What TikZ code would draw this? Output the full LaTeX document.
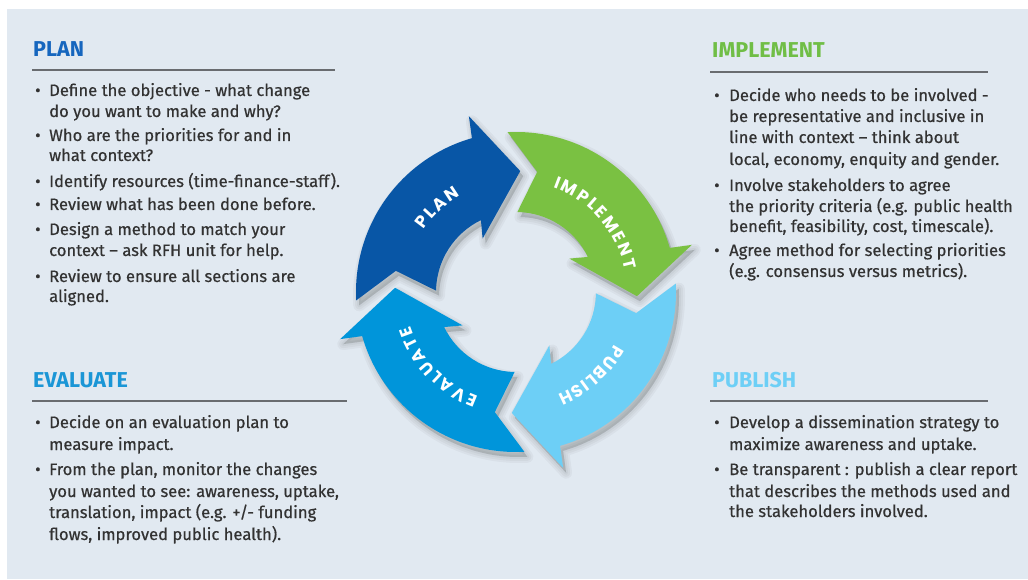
\documentclass[tikz,border=0pt]{standalone}
\usepackage{fontspec}
\setmainfont{Fira Sans}
\newfontfamily\bodyfont{Fira Sans}[FakeBold=0.6]
\newfontfamily\lblfont{Poppins}
\usetikzlibrary{decorations.text}
\definecolor{panel}{RGB}{225,233,241}
\definecolor{plancol}{RGB}{8,86,166}
\definecolor{planhead}{RGB}{22,102,190}
\definecolor{implcol}{RGB}{122,193,66}
\definecolor{implhead}{RGB}{112,190,70}
\definecolor{pubcol}{RGB}{109,207,246}
\definecolor{evalcol}{RGB}{0,149,218}
\definecolor{evalhead}{RGB}{27,150,214}
\definecolor{bodytext}{RGB}{50,50,50}
\definecolor{rulecol}{RGB}{105,108,112}
\newcommand{\cycshape}[2]{%
  \path[#1] (#2+4:160) arc[start angle=#2+4, end angle=#2-73, radius=160]
    -- (#2-74:182) -- (#2-91:121) -- (#2-57:63) -- (#2-63:80)
    arc[start angle=#2-63, end angle=#2, radius=80] -- (#2-9:122) -- cycle;}
\newcommand{\cyclabel}[3]{%
  \path[decorate, decoration={text along path,
    text={|\lblfont\bfseries\fontsize{17}{17}\selectfont|#3},
    text align=fit to path, text color=white}]
    (#1+#2:111) arc[start angle=#1+#2, end angle=#1-#2, radius=111];}
\tikzset{
  body/.style={anchor=base west, inner sep=0pt, text=bodytext, font=\bodyfont\fontsize{16.6}{16.6}\selectfont},
  heading/.style={anchor=base west, inner sep=0pt, font=\bfseries\fontsize{21.5}{21.5}\selectfont},
  hrule/.style={draw=rulecol, line width=1.6pt},
  soft/.style={fill=black, draw=black, fill opacity=0.05, draw opacity=0.035, line width=#1, line join=round},
}
\begin{document}
\begin{tikzpicture}[x=1pt,y=1pt]
\useasboundingbox (0,0) rectangle (1028,579);
\fill[white] (0,0) rectangle (1028,579);
\fill[panel] (7,0) rectangle (1028,570);

% ---------- cycle ----------
\begin{scope}[shift={(516,287)}]
  \begin{scope}[shift={(3,-5)}]
    \foreach \w in {12,8,4}{
      \foreach \s in {179,89,-1,-91}{\cycshape{soft=\w pt}{\s}}
    }
  \end{scope}
  \cycshape{fill=plancol}{179}
  \cycshape{fill=implcol}{89}
  \cycshape{fill=pubcol}{-1}
  \cycshape{fill=evalcol}{-91}
  \cyclabel{133}{13}{PLAN}
  \cyclabel{41}{29.5}{IMPLEMENT}
  \cyclabel{-48}{20}{PUBLISH}
  \cyclabel{-136}{26}{EVALUATE}
\end{scope}

% ---------- PLAN ----------
\node[heading, text=planhead] (planH) at (33,522) {PLAN};
\coordinate (planRa) at (32,509); \coordinate (planRb) at (335,509);
\draw[hrule] (planRa) -- (planRb);
\node[body] (pb1) at (35,483) {•};
\node[body] (p1) at (49,483) {Define the objective - what change};
\node[body] (p2) at (49,462) {do you want to make and why?};
\node[body] (pb2) at (35,438) {•};
\node[body] (p3) at (49,438) {Who are the priorities for and in};
\node[body] (p4) at (49,418) {what context?};
\node[body] (pb3) at (35,392) {•};
\node[body] (p5) at (49,392) {Identify resources (time-finance-staff).};
\node[body] (pb4) at (35,369) {•};
\node[body] (p6) at (49,369) {Review what has been done before.};
\node[body] (pb5) at (35,344) {•};
\node[body] (p7) at (49,344) {Design a method to match your};
\node[body] (p8) at (49,323) {context – ask RFH unit for help.};
\node[body] (pb6) at (35,297) {•};
\node[body] (p9) at (49,297) {Review to ensure all sections are};
\node[body] (p10) at (49,277) {aligned.};

% ---------- IMPLEMENT ----------
\node[heading, text=implhead] (implH) at (712,521) {IMPLEMENT};
\coordinate (implRa) at (710,507); \coordinate (implRb) at (988,507);
\draw[hrule] (implRa) -- (implRb);
\node[body] (ib1) at (714,478) {•};
\node[body] (i1) at (729,478) {Decide who needs to be involved -};
\node[body] (i2) at (729,457) {be representative and inclusive in};
\node[body] (i3) at (729,436) {line with context – think about};
\node[body] (i4) at (729,414) {local, economy, enquity and gender.};
\node[body] (ib2) at (714,388) {•};
\node[body] (i5) at (729,388) {Involve stakeholders to agree};
\node[body] (i6) at (729,367) {the priority criteria (e.g. public health};
\node[body] (i7) at (729,347) {benefit, feasibility, cost, timescale).};
\node[body] (ib3) at (714,323) {•};
\node[body] (i8) at (729,323) {Agree method for selecting priorities};
\node[body] (i9) at (729,302) {(e.g. consensus versus metrics).};

% ---------- EVALUATE ----------
\node[heading, text=evalhead] (evalH) at (33,192) {EVALUATE};
\coordinate (evalRa) at (32,178); \coordinate (evalRb) at (347,178);
\draw[hrule] (evalRa) -- (evalRb);
\node[body] (eb1) at (35,151) {•};
\node[body] (e1) at (49,151) {Decide on an evaluation plan to};
\node[body] (e2) at (49,129) {measure impact.};
\node[body] (eb2) at (35,104) {•};
\node[body] (e3) at (49,104) {From the plan, monitor the changes};
\node[body] (e4) at (49,82) {you wanted to see: awareness, uptake,};
\node[body] (e5) at (49,61) {translation, impact (e.g. +/- funding};
\node[body] (e6) at (49,39) {flows, improved public health).};

% ---------- PUBLISH ----------
\node[heading, text=pubcol] (pubH) at (712,192) {PUBLISH};
\coordinate (pubRa) at (710,178); \coordinate (pubRb) at (988,178);
\draw[hrule] (pubRa) -- (pubRb);
\node[body] (ub1) at (714,151) {•};
\node[body] (u1) at (729,151) {Develop a dissemination strategy to};
\node[body] (u2) at (729,129) {maximize awareness and uptake.};
\node[body] (ub2) at (714,104) {•};
\node[body] (u3) at (729,104) {Be transparent : publish a clear report};
\node[body] (u4) at (729,82) {that describes the methods used and};
\node[body] (u5) at (729,62) {the stakeholders involved.};
\end{tikzpicture}
\end{document}
